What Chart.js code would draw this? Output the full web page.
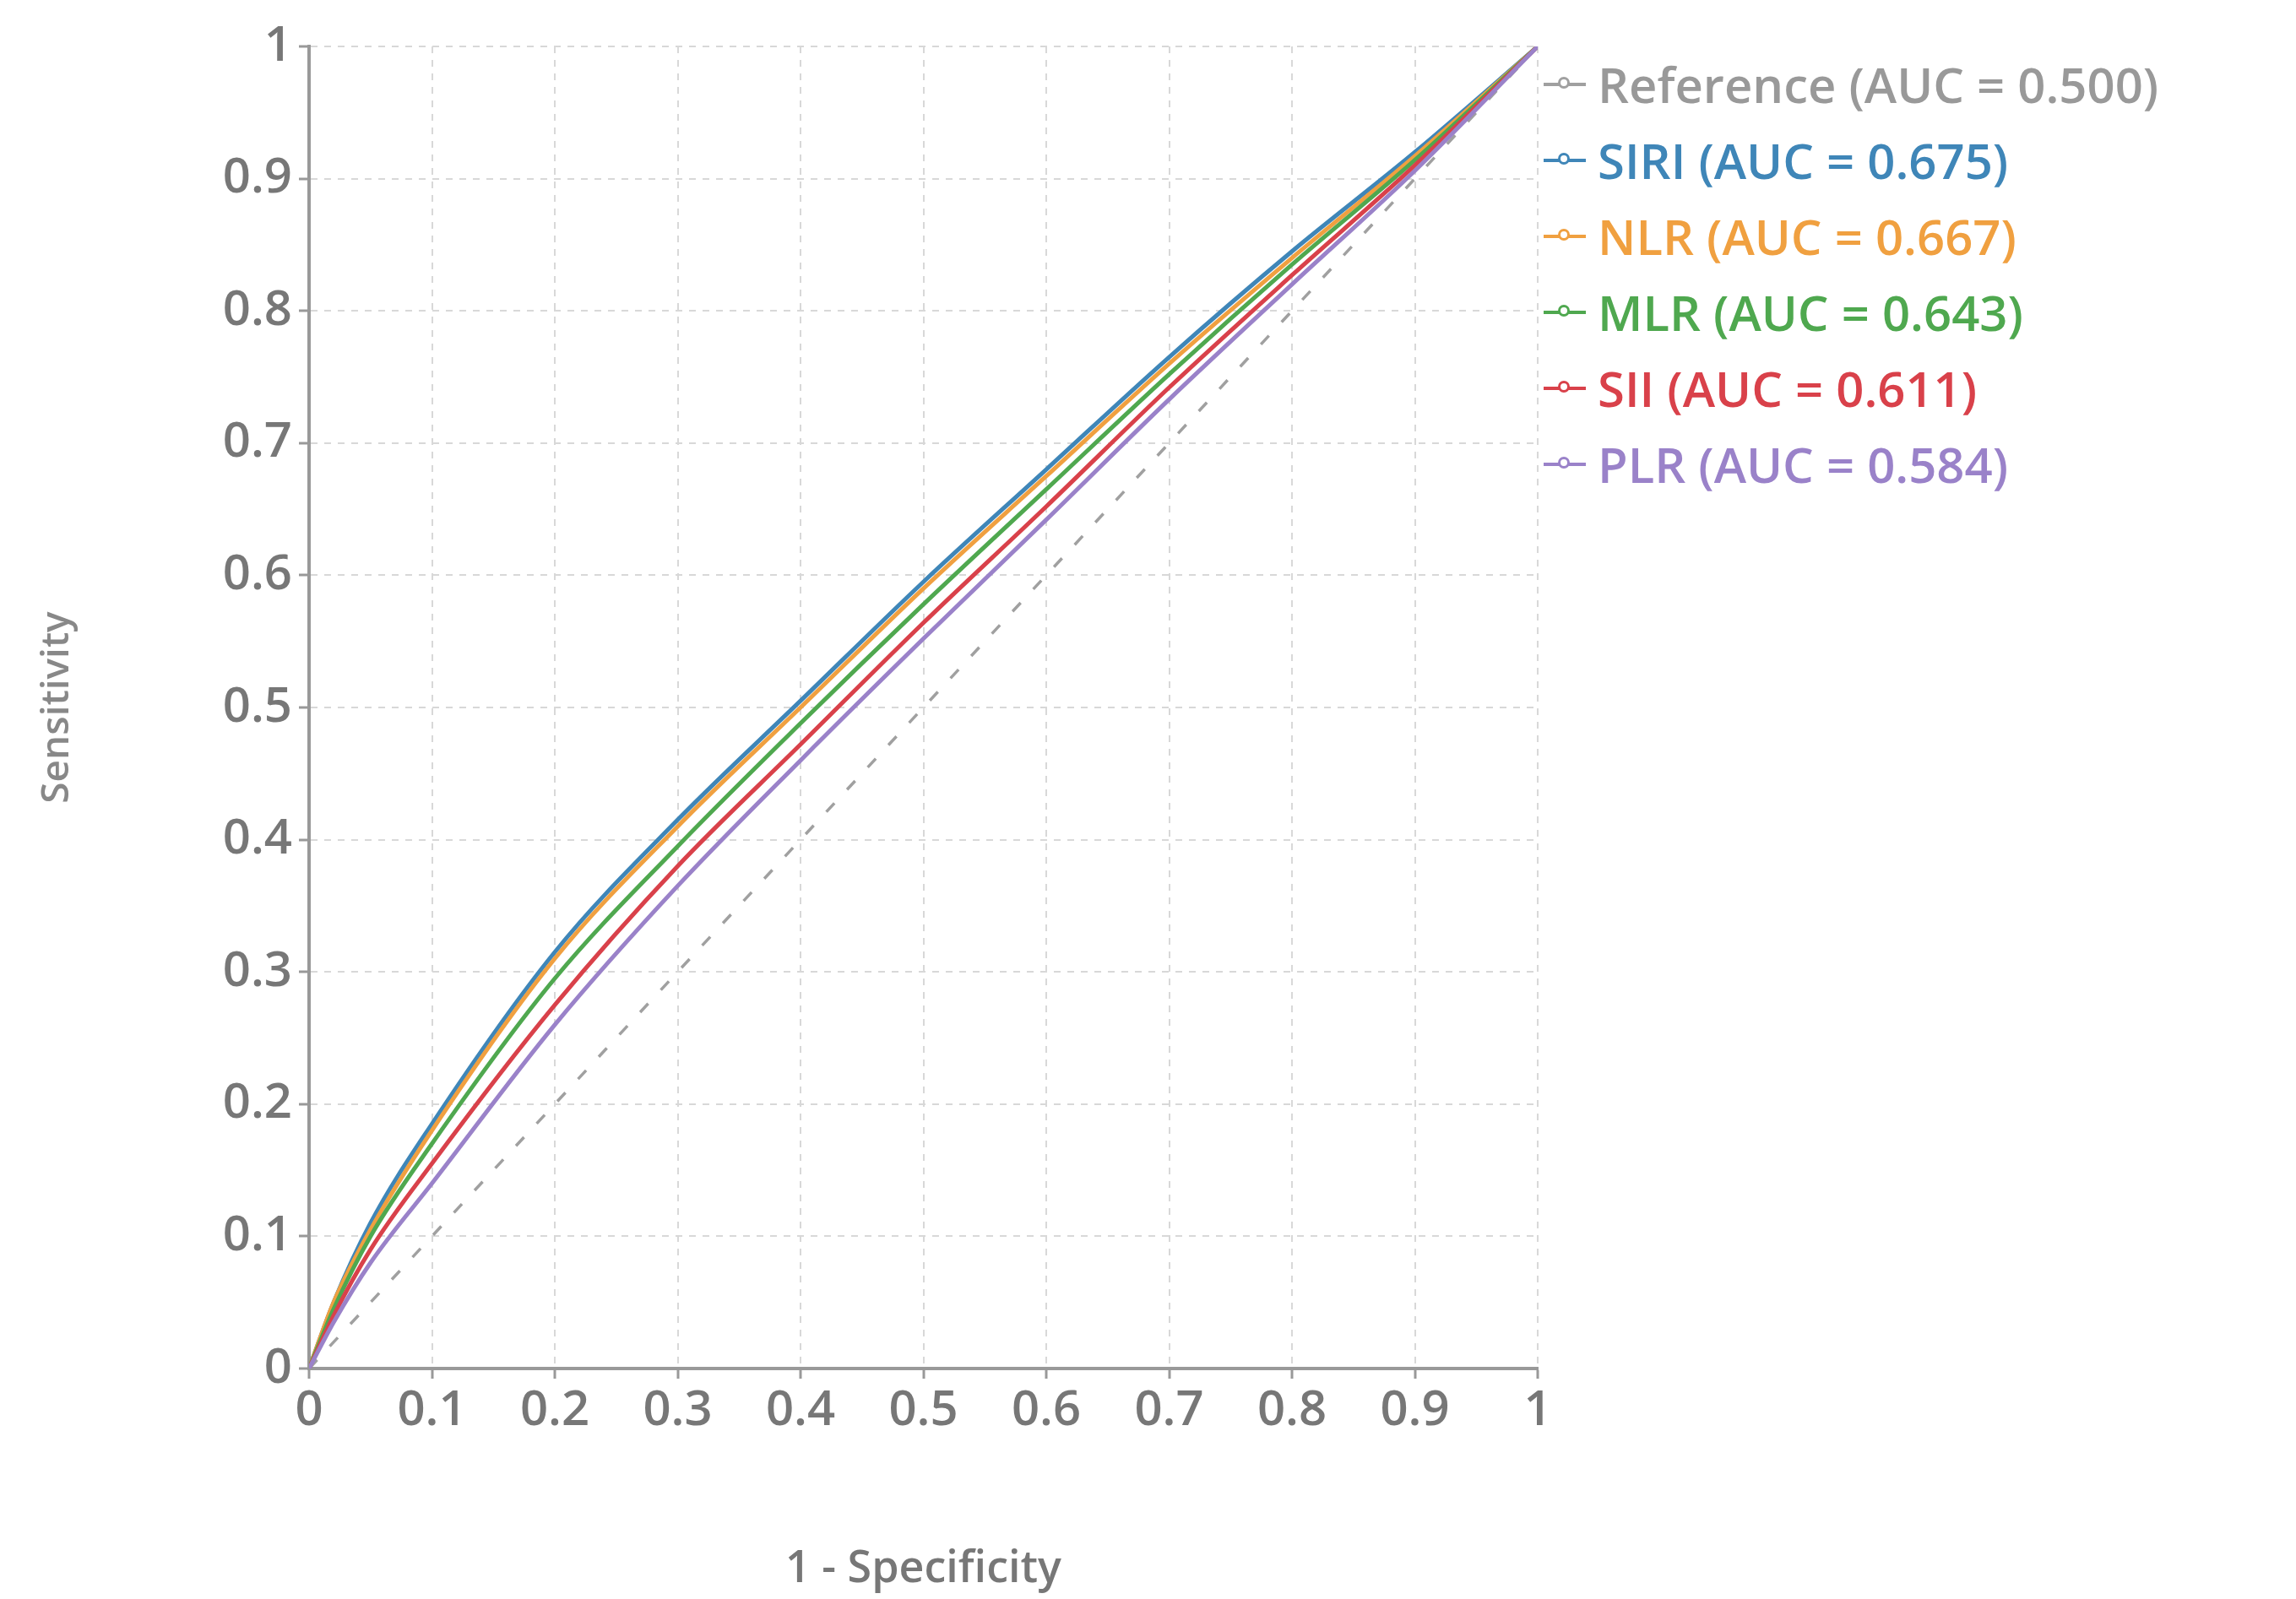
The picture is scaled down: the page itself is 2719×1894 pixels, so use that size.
<!DOCTYPE html>
<html><head><meta charset="utf-8">
<script src="https://cdn.jsdelivr.net/npm/chart.js@4"></script>
<style>
html,body{margin:0;padding:0;background:#fff;}
#wrap{position:relative;width:2719px;height:1894px;}
#legend{position:absolute;left:1828px;top:55px;font-family:"Open Sans",sans-serif;font-weight:600;font-size:58px;line-height:90px;}
#legend div{display:flex;align-items:center;white-space:nowrap;}
#legend .m{position:relative;width:50px;height:4px;margin-right:14px;}
#legend .m span{position:absolute;left:17px;top:-7px;width:14px;height:14px;border-radius:50%;border:3px solid;background:#fff;box-sizing:border-box;}
</style></head>
<body><div id="wrap"><canvas id="c" width="2719" height="1894"></canvas><div id="legend"></div></div>
<script>
const fprPoints = [0, 0.02, 0.05, 0.1, 0.2, 0.3, 0.4, 0.5, 0.6, 0.7, 0.8, 0.9, 1];
const seriesNames = ["Reference (AUC = 0.500)", "SIRI (AUC = 0.675)", "NLR (AUC = 0.667)", "MLR (AUC = 0.643)", "SII (AUC = 0.611)", "PLR (AUC = 0.584)"];
const refTPR  = [0, 0.02, 0.05, 0.1, 0.2, 0.3, 0.4, 0.5, 0.6, 0.7, 0.8, 0.9, 1];
const siriTPR = [0, 0.05, 0.11, 0.185, 0.315, 0.415, 0.505, 0.595, 0.68, 0.765, 0.845, 0.92, 1];
const nlrTPR  = [0, 0.05, 0.105, 0.18, 0.31, 0.41, 0.50, 0.59, 0.675, 0.76, 0.84, 0.917, 1];
const mlrTPR  = [0, 0.045, 0.10, 0.17, 0.295, 0.395, 0.488, 0.578, 0.665, 0.752, 0.835, 0.914, 1];
const siiTPR  = [0, 0.04, 0.09, 0.155, 0.275, 0.38, 0.472, 0.564, 0.652, 0.742, 0.827, 0.91, 1];
const plrTPR  = [0, 0.035, 0.08, 0.14, 0.26, 0.365, 0.46, 0.552, 0.642, 0.733, 0.82, 0.906, 1];
const tickLabels = ["0","0.1","0.2","0.3","0.4","0.5","0.6","0.7","0.8","0.9","1"];
const colors = ["#a0a0a0", "#3f86b8", "#f0a040", "#4fa84f", "#d9414a", "#9a82c9"];
const all = [refTPR, siriTPR, nlrTPR, mlrTPR, siiTPR, plrTPR];

const datasets = all.map((arr, i) => ({
  label: seriesNames[i],
  data: arr.map((v, j) => ({x: fprPoints[j], y: v})),
  borderColor: colors[i],
  borderWidth: i === 0 ? 3.5 : 5,
  borderDash: i === 0 ? [14, 22] : [],
  pointRadius: 0,
  cubicInterpolationMode: i === 0 ? 'default' : 'monotone',
  fill: false
}));
datasets.reverse();

const tickFont = {family: "'Open Sans', sans-serif", size: 58, weight: '600'};
new Chart(document.getElementById('c'), {
  type: 'line',
  data: {datasets},
  options: {
    responsive: false, animation: false,
    layout: {padding: {top: 55, right: 898, left: 36, bottom: 0}},
    plugins: {legend: {display: false}, tooltip: {enabled: false}},
    scales: {
      x: {
        type: 'linear', min: 0, max: 1,
        afterFit: s => { s.height = 273; },
        afterBuildTicks: s => { s.ticks = tickLabels.map(t => ({value: parseFloat(t)})); },
        ticks: {font: tickFont, color: '#777', padding: 4, callback: v => tickLabels[Math.round(v*10)], maxRotation: 0, autoSkip: false},
        grid: {color: '#d8d8d8', lineWidth: 2, tickColor: '#999', tickLength: 12, tickWidth: 3},
        border: {color: '#999', width: 4, dash: [8, 8]},
        title: {display: true, text: '1 - Specificity', color: '#777', font: {family: "'Open Sans', sans-serif", size: 52, weight: '600'}, padding: {top: 40}}
      },
      y: {
        type: 'linear', min: 0, max: 1,
        afterFit: s => { s.width = 330; },
        afterBuildTicks: s => { s.ticks = tickLabels.map(t => ({value: parseFloat(t)})); },
        ticks: {font: tickFont, color: '#777', padding: 8, callback: v => tickLabels[Math.round(v*10)], autoSkip: false},
        grid: {color: '#d8d8d8', lineWidth: 2, tickColor: '#999', tickLength: 12, tickWidth: 3},
        border: {color: '#999', width: 4, dash: [8, 8]},
        title: {display: true, text: 'Sensitivity', color: '#888', font: {family: "'Open Sans', sans-serif", size: 46, weight: '600'}, padding: {bottom: 60}}
      }
    }
  }
});

const lg = document.getElementById('legend');
seriesNames.forEach((n, i) => {
  const d = document.createElement('div');
  d.style.color = colors[i] === '#a0a0a0' ? '#999' : colors[i];
  d.innerHTML = `<span class="m" style="background:${colors[i]}"><span style="border-color:${colors[i]}"></span></span>${n}`;
  lg.appendChild(d);
});
</script></body></html>
